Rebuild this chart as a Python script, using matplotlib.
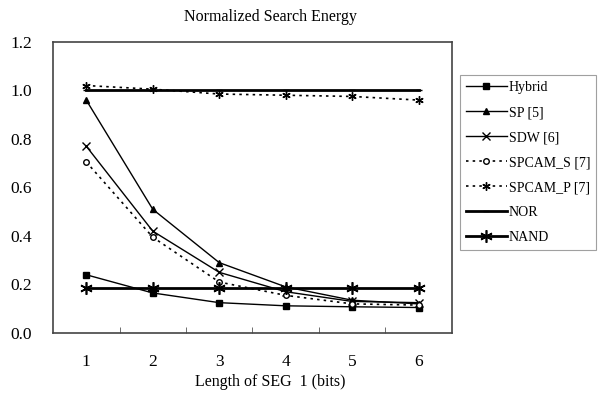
import numpy as np
import matplotlib
matplotlib.use("Agg")
import matplotlib.pyplot as plt

plt.rcParams['font.family'] = ['Liberation Serif', 'DejaVu Serif']

# x categories: length of SEG 1 in bits
bits = [1, 2, 3, 4, 5, 6]

hybrid = [0.24, 0.165, 0.125, 0.112, 0.108, 0.105]
sp = [0.96, 0.51, 0.29, 0.19, 0.135, 0.12]
sdw = [0.77, 0.42, 0.25, 0.17, 0.13, 0.125]
spcam_s = [0.705, 0.395, 0.21, 0.155, 0.12, 0.115]
spcam_p = [1.02, 1.005, 0.985, 0.98, 0.975, 0.96]
nor = [1.0, 1.0, 1.0, 1.0, 1.0, 1.0]
nand = [0.185, 0.185, 0.185, 0.185, 0.185, 0.185]

fig = plt.figure(figsize=(5.99, 3.95), dpi=100)
ax = fig.add_axes([0.0885, 0.157, 0.666, 0.737])

ax.plot(bits, hybrid, color='black', lw=1, marker='s', ms=4.5, label='Hybrid')
ax.plot(bits, sp, color='black', lw=1, marker='^', ms=5, label='SP [5]')
ax.plot(bits, sdw, color='black', lw=1, marker='x', ms=6, mew=1, label='SDW [6]')
ax.plot(bits, spcam_s, color='black', lw=1.2, ls=(0, (1.5, 2.5)), marker='o', ms=4,
        mfc='white', mew=1, label='SPCAM_S [7]')
ax.plot(bits, spcam_p, color='black', lw=1.2, ls=(0, (1.5, 2.5)), marker=(6, 2, 0), ms=6,
        mew=1, label='SPCAM_P [7]')
ax.plot(bits, nor, color='black', lw=2, marker='_', ms=4, label='NOR')
ax.plot(bits, nand, color='black', lw=2, marker=(6, 2, 0), ms=9, mew=1.2, label='NAND')

ax.set_xlim(0.5, 6.5)
ax.set_ylim(0, 1.2)
ax.set_xticks(bits)
ax.set_yticks(np.arange(0, 1.21, 0.2))
ax.set_yticklabels([f"{v:.1f}" for v in np.arange(0, 1.21, 0.2)])
ax.tick_params(axis='both', length=0, labelsize=12.5)
ax.tick_params(axis='y', pad=15)
ax.tick_params(axis='x', pad=15)
# category boundary ticks on the bottom axis
ax.set_xticks(np.arange(1.5, 6.5, 1), minor=True)
ax.tick_params(axis='x', which='minor', direction='in', length=4, color='#555555')

for s in ax.spines.values():
    s.set_color('#444444')
    s.set_linewidth(1.2)

fig.text(0.451, 0.033, 'Length of SEG  1 (bits)', ha='center', va='center', fontsize=11.5)
fig.text(0.452, 0.957, 'Normalized Search Energy', ha='center', va='center', fontsize=11.5)

leg = fig.legend(loc='upper left', bbox_to_anchor=(0.768, 0.81), fontsize=10,
                 frameon=True, fancybox=False, edgecolor='#888888', handlelength=2.9,
                 labelspacing=0.86, borderpad=0.45, handletextpad=0.15, borderaxespad=0)
leg.get_frame().set_linewidth(0.8)

fig.savefig('out.png', dpi=100)
